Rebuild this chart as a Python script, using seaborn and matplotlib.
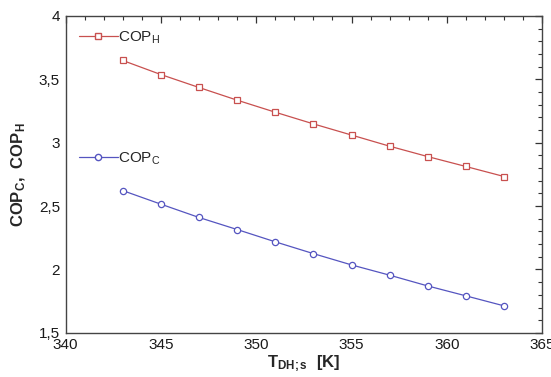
import matplotlib
matplotlib.use("Agg")
import matplotlib.pyplot as plt
import seaborn as sns
import pandas as pd
from matplotlib.ticker import MultipleLocator, FuncFormatter
from matplotlib.lines import Line2D

T = [343, 345, 347, 349, 351, 353, 355, 357, 359, 361, 363]
cop_h = [3.648, 3.537, 3.435, 3.335, 3.240, 3.148, 3.060, 2.972, 2.890, 2.812, 2.733]
cop_c = [2.622, 2.515, 2.410, 2.315, 2.218, 2.125, 2.036, 1.955, 1.870, 1.792, 1.713]

sns.set_theme(style="white")
plt.rcParams['font.family'] = ['Liberation Sans', 'DejaVu Sans']
plt.rcParams['mathtext.fontset'] = 'custom'
plt.rcParams['mathtext.rm'] = 'Liberation Sans'
plt.rcParams['mathtext.it'] = 'Liberation Sans'
plt.rcParams['mathtext.bf'] = 'Liberation Sans:bold'

red = '#c8504f'
blue = '#5555c0'

df = pd.DataFrame({'T': T, 'H': cop_h, 'C': cop_c})

fig = plt.figure(figsize=(5.51, 3.77), dpi=100)
ax = fig.add_axes([0.119, 0.117, 0.865, 0.841])

sns.lineplot(data=df, x='T', y='H', ax=ax, color=red, lw=0.9, marker='s',
             markersize=5, markerfacecolor='white', markeredgecolor=red, markeredgewidth=0.9)
sns.lineplot(data=df, x='T', y='C', ax=ax, color=blue, lw=0.9, marker='o',
             markersize=4.5, markerfacecolor='white', markeredgecolor=blue, markeredgewidth=0.9)

ax.set_xlim(340, 365)
ax.set_ylim(1.5, 4)
ax.xaxis.set_major_locator(MultipleLocator(5))
ax.xaxis.set_minor_locator(MultipleLocator(1))
ax.yaxis.set_major_locator(MultipleLocator(0.5))
ax.yaxis.set_minor_locator(MultipleLocator(0.1))
ax.yaxis.set_major_formatter(FuncFormatter(lambda v, p: ('%g' % v).replace('.', ',')))
ax.tick_params(which='both', direction='in', top=True, right=True, colors='#333333',
               labelcolor='#1a1a1a', labelsize=11, pad=4)
ax.tick_params(which='major', length=5, width=0.9)
ax.tick_params(which='minor', length=3, width=0.8)
for s in ax.spines.values():
    s.set_color('#444444')
    s.set_linewidth(1.0)

ax.set_xlabel(r'T$_{\mathbf{DH;s}}$  [K]', fontsize=12, fontweight='bold', labelpad=1)
ax.set_ylabel(r'COP$_{\mathbf{C}}$,  COP$_{\mathbf{H}}$', fontsize=12, fontweight='bold', labelpad=8)

hH = Line2D([], [], color=red, lw=0.9, marker='s', markersize=5,
            markerfacecolor='white', markeredgecolor=red)
hC = Line2D([], [], color=blue, lw=0.9, marker='o', markersize=4.5,
            markerfacecolor='white', markeredgecolor=blue)
legH = ax.legend([hH], [r'COP$_\mathregular{H}$'], loc='center left', bbox_to_anchor=(0.0, 0.931),
                 frameon=False, fontsize=11, handlelength=2.6, handletextpad=0.0, borderaxespad=0.45)
ax.add_artist(legH)
ax.legend([hC], [r'COP$_\mathregular{C}$'], loc='center left', bbox_to_anchor=(0.0, 0.5485),
          frameon=False, fontsize=11, handlelength=2.6, handletextpad=0.0, borderaxespad=0.45)

fig.savefig('out.png', dpi=100)
